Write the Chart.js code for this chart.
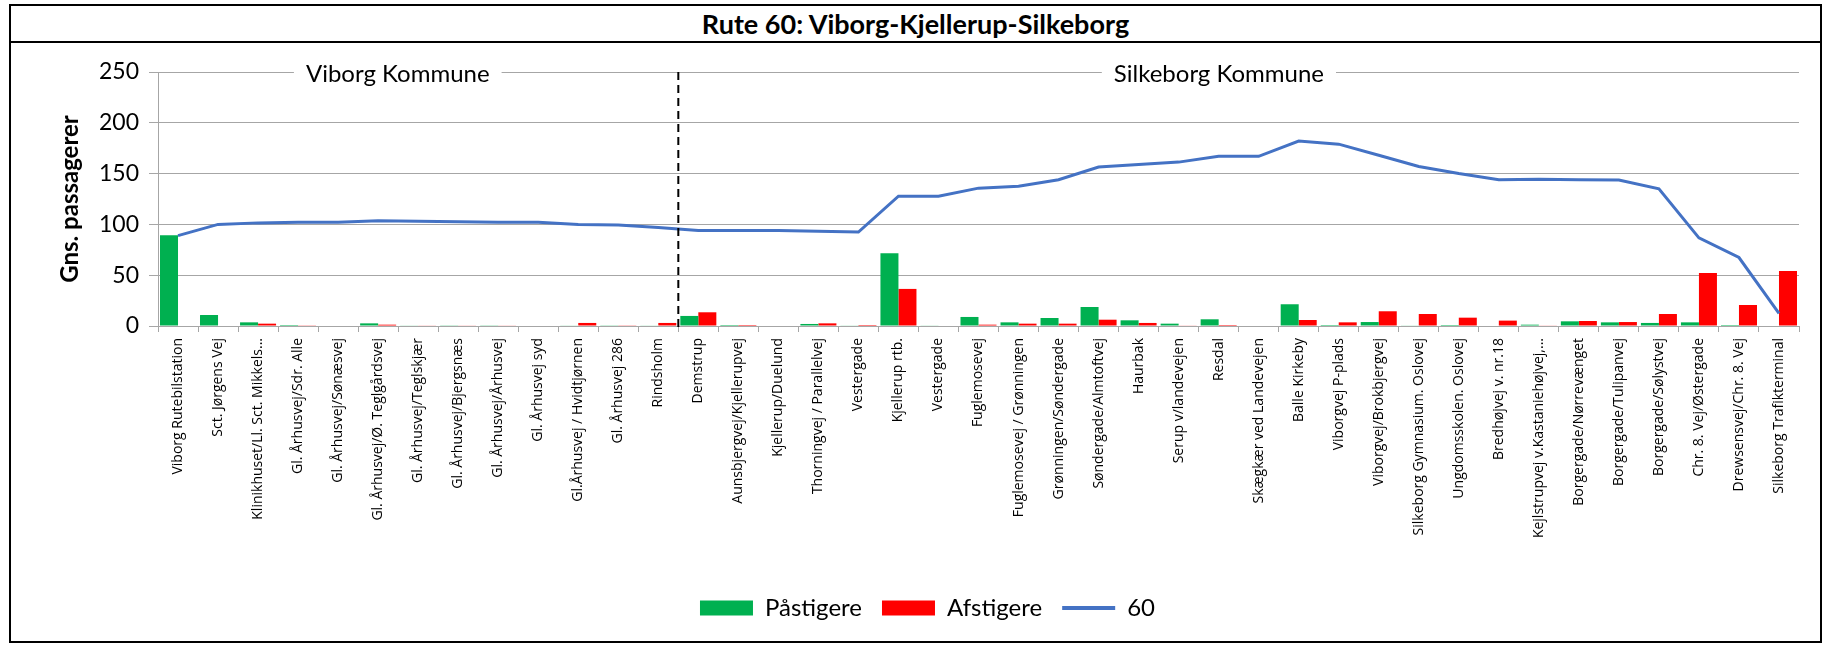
<!DOCTYPE html>
<html>
<head>
<meta charset="utf-8">
<script src="https://cdn.jsdelivr.net/npm/chart.js@4.4.1/dist/chart.umd.min.js"></script>
<style>
  html, body { margin: 0; padding: 0; background: #fff; overflow: hidden; }
  .frame { position: absolute; left: 9px; top: 4px; width: 1813px; height: 639px; border: 2px solid #000; box-sizing: border-box; }
  .title { height: 35px; border-bottom: 2px solid #000; font: bold 27px Lato, sans-serif; text-align: center; line-height: 35px; color: #000; }
  #wrap { position: absolute; left: 0; top: 37px; width: 1809px; height: 596px; }
</style>
</head>
<body>
<div class="frame">
  <div class="title">Rute 60: Viborg-Kjellerup-Silkeborg</div>
  <div id="wrap"><canvas id="chart"></canvas></div>
</div>
<script>
// stoppesteder langs ruten
const stops = [
  'Viborg Rutebilstation', 'Sct. Jørgens Vej', 'Klinikhuset/Ll. Sct. Mikkels...', 'Gl. Århusvej/Sdr. Alle',
  'Gl. Århusvej/Sønæsvej', 'Gl. Århusvej/Ø. Teglgårdsvej', 'Gl. Århusvej/Teglskjær', 'Gl. Århusvej/Bjergsnæs',
  'Gl. Århusvej/Århusvej', 'Gl. Århusvej syd', 'Gl.Århusvej / Hvidtjørnen', 'Gl. Århusvej 286', 'Rindsholm',
  'Demstrup', 'Aunsbjergvej/Kjellerupvej', 'Kjellerup/Duelund', 'Thorningvej / Parallelvej', 'Vestergade',
  'Kjellerup rtb.', 'Vestergade', 'Fuglemosevej', 'Fuglemosevej / Grønningen', 'Grønningen/Søndergade',
  'Søndergade/Almtoftvej', 'Haurbak', 'Serup v/landevejen', 'Resdal', 'Skægkær ved Landevejen', 'Balle Kirkeby',
  'Viborgvej P-plads', 'Viborgvej/Brokbjergvej', 'Silkeborg Gymnasium. Oslovej', 'Ungdomsskolen. Oslovej',
  'Bredhøjvej v. nr.18', 'Kejlstrupvej v.Kastaniehøjvej,...', 'Borgergade/Nørrevænget', 'Borgergade/Tulipanvej',
  'Borgergade/Sølystvej', 'Chr. 8. Vej/Østergade', 'Drewsensvej/Chr. 8. Vej', 'Silkeborg Trafikterminal'
];

const paastigere = [89.4, 10.8, 3.6, 1, 0, 2.6, 0.6, 0.3, 0.3, 0, 0.6, 0.3, 0.6, 9.9, 1, 0, 2, 0.6, 71.6, 0.6,
  8.9, 3.6, 7.9, 18.7, 5.6, 2.3, 6.6, 0, 21.4, 1, 3.9, 0.6, 1, 0, 1.3, 4.6, 3.6, 3, 3.6, 1, 0];

const afstigere = [0, 0, 2.3, 0.3, 0, 1.3, 0.6, 0.6, 0.6, 0, 3, 0.3, 3, 13.5, 1, 0, 2.6, 1, 36.5, 0,
  1.3, 2.3, 2.3, 6.2, 3, 0.6, 1, 0, 5.9, 3.6, 14.5, 11.8, 8.2, 5.3, 0.6, 4.9, 3.9, 11.8, 52.2, 20.7, 54.2];

// gns. antal i bussen efter stoppestedet
const rute60 = [89, 100, 101.5, 102, 102, 103.5, 103, 102.5, 102, 102, 100, 99.5, 97, 94, 94, 94, 93.3, 92.5,
  127.8, 127.8, 135.7, 137.6, 143.9, 156.4, 159, 161.3, 167, 167, 182, 179, 168, 157, 150, 144, 144.5, 144,
  143.6, 135, 86.7, 67.4, 12.5];

const yTicks = [0, 50, 100, 150, 200, 250];
const kommuner = ['Viborg Kommune', 'Silkeborg Kommune'];

// placering af kommune-tekst (andel af x-aksen) og kommunegrænse (mellem Rindsholm og Demstrup)
const kommunePos = [0.1461, 0.6465];
const grensePos = 12.5;

const GRID = '#a6a6a6';

const kommunePlugin = {
  id: 'kommuner',
  afterDatasetsDraw(chart) {
    const { ctx, scales: { x, y } } = chart;
    const top = y.getPixelForValue(yTicks[yTicks.length - 1]);
    const bottom = y.getPixelForValue(0);

    ctx.save();
    // stiplet kommunegrænse
    const bx = x.getPixelForValue(grensePos);
    ctx.strokeStyle = '#000';
    ctx.lineWidth = 2;
    ctx.setLineDash([8, 5]);
    ctx.beginPath();
    ctx.moveTo(bx, top);
    ctx.lineTo(bx, bottom + 6);
    ctx.stroke();
    ctx.setLineDash([]);

    ctx.font = '24px Lato';
    ctx.textAlign = 'center';
    ctx.textBaseline = 'alphabetic';
    kommuner.forEach((name, i) => {
      const cx = x.getPixelForDecimal(kommunePos[i]);
      const w = ctx.measureText(name).width + 24;
      ctx.fillStyle = '#fff';
      ctx.fillRect(cx - w / 2, top - 3, w, 6);
      ctx.fillStyle = '#000';
      ctx.fillText(name, cx, top + 10);
    });
    ctx.restore();
  }
};

Chart.defaults.font.family = 'Lato';
Chart.defaults.color = '#000';

new Chart(document.getElementById('chart'), {
  type: 'bar',
  data: {
    labels: stops,
    datasets: [
      { label: 'Påstigere', data: paastigere, backgroundColor: '#00b050', order: 1 },
      { label: 'Afstigere', data: afstigere, backgroundColor: '#ff0000', order: 1 },
      {
        type: 'line', label: '60', data: rute60, borderColor: '#4472c4', backgroundColor: '#4472c4',
        borderWidth: 3, pointRadius: 0, tension: 0, order: 0
      }
    ]
  },
  options: {
    responsive: true,
    maintainAspectRatio: false,
    animation: false,
    datasets: { bar: { categoryPercentage: 0.9, barPercentage: 1.0 } },
    layout: { padding: { top: 29, right: 21, left: 45, bottom: 9 } },
    plugins: {
      tooltip: { enabled: false },
      legend: {
        position: 'bottom',
        labels: {
          usePointStyle: true,
          pointStyleWidth: 53,
          boxHeight: 15,
          padding: 20,
          font: { size: 24 },
          generateLabels(chart) {
            const items = Chart.defaults.plugins.legend.labels.generateLabels(chart);
            items.sort((a, b) => a.datasetIndex - b.datasetIndex);
            return items.map(it => {
              const ds = chart.data.datasets[it.datasetIndex];
              if (ds.type === 'line') {
                it.pointStyle = 'line';
                it.strokeStyle = ds.borderColor;
                it.lineWidth = 4;
              } else {
                it.pointStyle = 'rect';
                it.fillStyle = ds.backgroundColor;
                it.strokeStyle = ds.backgroundColor;
                it.lineWidth = 0;
              }
              return it;
            });
          }
        }
      }
    },
    scales: {
      x: {
        grid: { display: true, drawOnChartArea: false, drawTicks: true, tickLength: 6, offset: true, color: GRID },
        border: { display: true, color: GRID },
        ticks: {
          autoSkip: false, maxRotation: 90, minRotation: 90, padding: 6,
          font: { family: "'Open Sans', sans-serif", size: 14 }, color: '#000'
        },
        afterFit(scale) { scale.height = 250; }
      },
      y: {
        min: 0,
        max: 250,
        grid: { color: GRID, tickLength: 9 },
        border: { display: true, color: GRID },
        afterBuildTicks(scale) { scale.ticks = yTicks.map(v => ({ value: v })); },
        ticks: { font: { size: 23 }, padding: 10, color: '#000' },
        title: {
          display: true, text: 'Gns. passagerer',
          font: { size: 24, weight: 'bold' },
          padding: { top: 0, bottom: 0 }
        },
        afterFit(scale) { scale.width = 102; }
      }
    }
  },
  plugins: [kommunePlugin]
});
</script>
</body>
</html>
